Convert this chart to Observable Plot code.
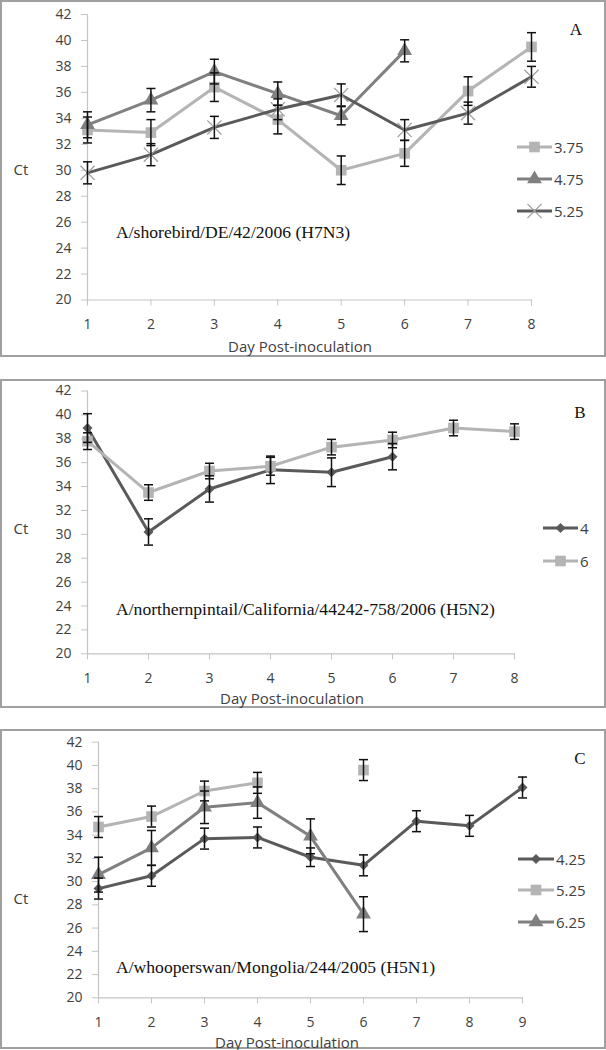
<!DOCTYPE html>
<html><head><meta charset="utf-8">
<script src="https://cdn.jsdelivr.net/npm/d3@7"></script>
<script src="https://cdn.jsdelivr.net/npm/@observablehq/plot@0.6"></script>
<style>
body{margin:0;background:#fff;}
#root{position:relative;width:606px;height:1050px;overflow:hidden;font-family:"Open Sans",sans-serif;color:#404040;}
.panel{position:absolute;left:0;width:606px;}
.panel svg{position:absolute;left:0;top:0;}
.frame{position:absolute;left:0;top:0;width:606px;border:2px solid #a0a0a0;box-sizing:border-box;pointer-events:none;}
.lbl{position:absolute;white-space:nowrap;line-height:1;}
.serif{font-family:"Liberation Serif","Times New Roman",serif;color:#111;}
</style></head><body><div id="root"></div>
<script>
// ---------- data ----------
const yTicks = [20,22,24,26,28,30,32,34,36,38,40,42];

// Panel A: A/shorebird/DE/42/2006 (H7N3)
const daysA = [1,2,3,4,5,6,7,8];
const seriesNamesA = ["3.75","4.75","5.25"];
const a375    = [33.1,32.9,36.4,33.9,30.0,31.3,36.1,39.5];
const a375Err = [1.0,1.0,1.1,1.1,1.1,1.0,1.1,1.1];
const a475    = [33.5,35.4,37.6,35.9,34.2,39.2,null,null];
const a475Err = [1.0,0.9,0.95,0.9,0.7,0.85,null,null];
const a525    = [29.8,31.2,33.3,34.7,35.8,33.1,34.4,37.2];
const a525Err = [0.85,0.85,0.85,0.8,0.85,0.8,0.85,0.8];

// Panel B: A/northernpintail/California/44242-758/2006 (H5N2)
const daysB = [1,2,3,4,5,6,7,8];
const seriesNamesB = ["4","6"];
const b4    = [38.9,30.2,33.8,35.4,35.2,36.5,null,null];
const b4Err = [1.2,1.1,1.1,1.15,1.2,1.1,null,null];
const b6    = [37.8,33.5,35.3,35.7,37.3,37.9,38.9,38.6];
const b6Err = [0.7,0.65,0.65,0.75,0.65,0.65,0.65,0.65];

// Panel C: A/whooperswan/Mongolia/244/2005 (H5N1)
const daysC = [1,2,3,4,5,6,7,8,9];
const seriesNamesC = ["4.25","5.25","6.25"];
const c425    = [29.4,30.5,33.7,33.8,32.1,31.4,35.2,34.8,38.1];
const c425Err = [0.9,0.9,0.9,0.9,0.8,0.9,0.9,0.9,0.9];
const c525    = [34.7,35.6,37.8,38.5,null,39.6,null,null,null];
const c525Err = [0.9,0.9,0.85,0.9,null,0.9,null,null,null];
const c625    = [30.6,32.9,36.4,36.8,33.9,27.2,null,null,null];
const c625Err = [1.5,1.5,1.4,1.35,1.5,1.5,null,null,null];

const titles = ["A/shorebird/DE/42/2006 (H7N3)",
                "A/northernpintail/California/44242-758/2006 (H5N2)",
                "A/whooperswan/Mongolia/244/2005 (H5N1)"];
const panelLetters = ["A","B","C"];
const xTitle = "Day Post-inoculation";
const yTitle = "Ct";

// ---------- styles ----------
const LIGHT = "#b4b4b4", MID = "#808080", DARK = "#5a5a5a";
const root = document.getElementById("root");

const capSymbol = { draw(ctx, size) { const h = Math.sqrt(size / Math.PI); ctx.moveTo(-h, 0); ctx.lineTo(h, 0); } };
const d3sym = { square: d3.symbolSquare, triangle: d3.symbolTriangle, diamond2: d3.symbolDiamond2, times: d3.symbolTimes };

function rowsOf(days, vals, errs) { return days.map((d, i) => ({day: d, ct: vals[i], err: errs[i]})); }

function addLabel(text, x, y, cls, style) {
  const el = document.createElement("div");
  el.className = "lbl " + (cls || "");
  el.textContent = text;
  el.style.left = x + "px"; el.style.top = y + "px";
  Object.assign(el.style, style || {});
  root.appendChild(el);
  return el;
}

function panel(cfg) {
  const wrap = document.createElement("div");
  wrap.className = "panel";
  wrap.style.top = cfg.top + "px";
  wrap.style.height = cfg.height + "px";
  const marks = [
    Plot.ruleX([cfg.days[0]], {stroke: "#c4c4c4", strokeWidth: 1.2}),
    Plot.ruleY([yTicks[0]], {stroke: "#c4c4c4", strokeWidth: 1.2}),
    Plot.axisY({ticks: yTicks, tickSize: 6, tickPadding: 10, stroke: "#c4c4c4", fill: "#404040", label: null, tickFormat: d => String(d)}),
    Plot.axisX({ticks: cfg.days, tickSize: 6, tickPadding: 13, stroke: "#c4c4c4", fill: "#404040", label: null, tickFormat: d => String(d)})
  ];
  const all = [];
  for (const s of cfg.series) {
    const rows = rowsOf(cfg.days, s.values, s.errs);
    const valid = rows.filter(r => r.ct != null);
    marks.push(Plot.line(rows, {x: "day", y: "ct", stroke: s.color, strokeWidth: 3, curve: "linear"}));
    if (s.symbol === "times")
      marks.push(Plot.dot(valid, {x: "day", y: "ct", symbol: "times", r: s.r, stroke: s.mcolor, strokeWidth: 1.2, fill: "none"}));
    else
      marks.push(Plot.dot(valid, {x: "day", y: "ct", symbol: s.symbol, r: s.r, fill: s.color, stroke: "none"}));
    all.push(...valid);
  }
  marks.push(Plot.ruleX(all, {x: "day", y1: d => d.ct - d.err, y2: d => d.ct + d.err, stroke: "#111", strokeWidth: 1.5}));
  marks.push(Plot.dot(all, {x: "day", y: d => d.ct - d.err, symbol: capSymbol, r: 4.5, stroke: "#111", strokeWidth: 1.5, fill: "none"}));
  marks.push(Plot.dot(all, {x: "day", y: d => d.ct + d.err, symbol: capSymbol, r: 4.5, stroke: "#111", strokeWidth: 1.5, fill: "none"}));

  const svg = Plot.plot({
    width: 606, height: cfg.height,
    marginTop: cfg.mt, marginBottom: cfg.mb, marginLeft: cfg.ml, marginRight: cfg.mr,
    x: {domain: [cfg.days[0], cfg.days[cfg.days.length - 1]]},
    y: {domain: [yTicks[0], yTicks[yTicks.length - 1]]},
    style: {fontFamily: "'Open Sans', sans-serif", fontSize: "14px", color: "#404040", background: "none", overflow: "visible"},
    marks
  });
  wrap.appendChild(svg);
  const frame = document.createElement("div");
  frame.className = "frame";
  frame.style.height = cfg.height + "px";
  wrap.appendChild(frame);
  root.appendChild(wrap);

  // legend
  cfg.series.forEach((s, i) => {
    const y = cfg.legend.ys[i];
    const w = cfg.legend.w;
    const ns = "http://www.w3.org/2000/svg";
    const ls = document.createElementNS(ns, "svg");
    ls.setAttribute("width", w); ls.setAttribute("height", 18);
    ls.style.position = "absolute"; ls.style.left = cfg.legend.x + "px"; ls.style.top = (y - 9) + "px";
    const ln = document.createElementNS(ns, "line");
    ln.setAttribute("x1", 0); ln.setAttribute("x2", w); ln.setAttribute("y1", 9); ln.setAttribute("y2", 9);
    ln.setAttribute("stroke", s.color); ln.setAttribute("stroke-width", 3);
    ls.appendChild(ln);
    const p = document.createElementNS(ns, "path");
    p.setAttribute("d", d3.symbol(d3sym[s.symbol], s.r * s.r * Math.PI)());
    p.setAttribute("transform", `translate(${w / 2},9)`);
    if (s.symbol === "times") { p.setAttribute("stroke", s.mcolor); p.setAttribute("stroke-width", 1.2); p.setAttribute("fill", "none"); }
    else p.setAttribute("fill", s.color);
    ls.appendChild(p);
    root.appendChild(ls);
    addLabel(s.name, cfg.legend.tx, y, "", {fontSize: "15px", transform: "translateY(-50%)"});
  });

  addLabel(cfg.title, 116, cfg.titleY, "serif", {fontSize: "16px", transform: "translateY(-50%) scaleX(1.1)", transformOrigin: "left center"});
  addLabel(cfg.letter, cfg.letterX, cfg.letterY, "serif", {fontSize: "17px", transform: "translate(-50%,-50%)"});
  addLabel(yTitle, 21, cfg.ctY, "", {fontSize: "15px", transform: "translate(-50%,-50%)"});
  addLabel(xTitle, cfg.xtX, cfg.xtY, "", {fontSize: "15px", transform: "translate(-50%,-50%)"});
}

panel({
  top: 0, height: 357, mt: 14, mb: 57.5, ml: 87, mr: 75, days: daysA,
  series: [
    {name: seriesNamesA[0], values: a375, errs: a375Err, color: LIGHT, symbol: "square", r: 6},
    {name: seriesNamesA[1], values: a475, errs: a475Err, color: MID, symbol: "triangle", r: 5.5},
    {name: seriesNamesA[2], values: a525, errs: a525Err, color: DARK, mcolor: "#9c9c9c", symbol: "times", r: 6.5}
  ],
  legend: {x: 517, w: 35, tx: 554, ys: [147, 179, 211]},
  title: titles[0], titleY: 233, letter: panelLetters[0], letterX: 576, letterY: 29, ctY: 169, xtX: 300, xtY: 346
});
panel({
  top: 379, height: 329, mt: 11.5, mb: 54.7, ml: 87, mr: 92, days: daysB,
  series: [
    {name: seriesNamesB[0], values: b4, errs: b4Err, color: DARK, symbol: "diamond2", r: 4.5},
    {name: seriesNamesB[1], values: b6, errs: b6Err, color: LIGHT, symbol: "square", r: 6}
  ],
  legend: {x: 543, w: 35, tx: 580, ys: [528, 561]},
  title: titles[1], titleY: 610, letter: panelLetters[1], letterX: 580, letterY: 412, ctY: 528, xtX: 292, xtY: 698
});
panel({
  top: 729, height: 320, mt: 12.7, mb: 51.7, ml: 98, mr: 84, days: daysC,
  series: [
    {name: seriesNamesC[0], values: c425, errs: c425Err, color: DARK, symbol: "diamond2", r: 4.5},
    {name: seriesNamesC[1], values: c525, errs: c525Err, color: LIGHT, symbol: "square", r: 6},
    {name: seriesNamesC[2], values: c625, errs: c625Err, color: MID, symbol: "triangle", r: 5.5}
  ],
  legend: {x: 518, w: 36, tx: 556, ys: [858.5, 890, 922]},
  title: titles[2], titleY: 968, letter: panelLetters[2], letterX: 580, letterY: 758, ctY: 898, xtX: 287, xtY: 1042
});
</script></body></html>
